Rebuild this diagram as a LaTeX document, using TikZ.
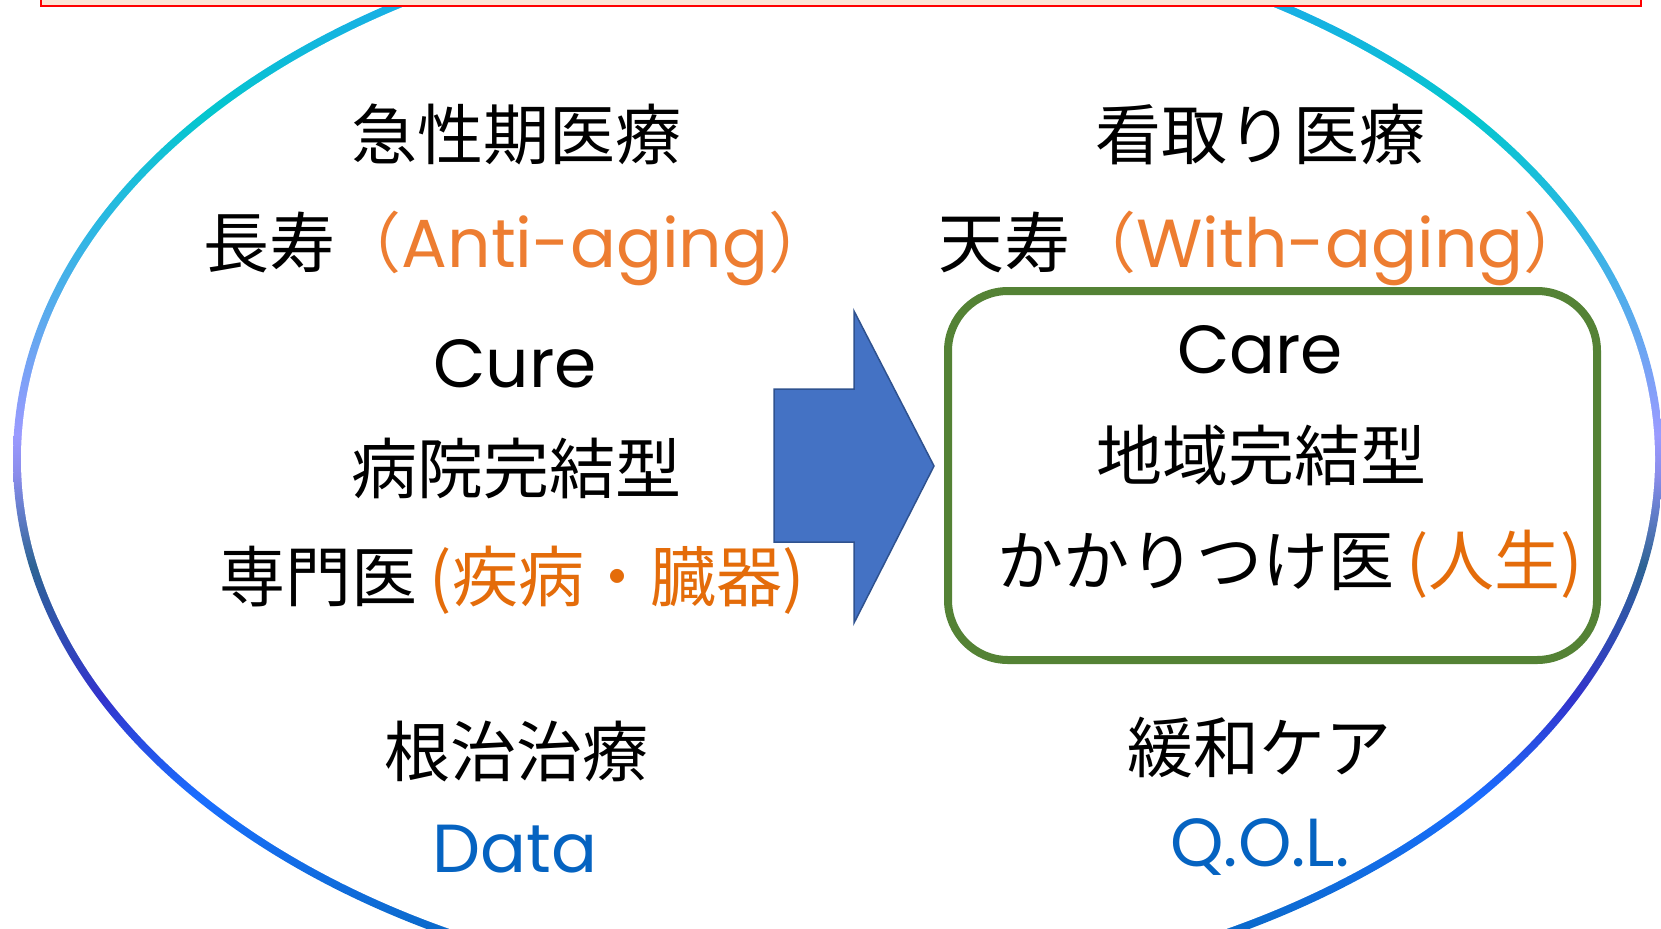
\documentclass[tikz,border=0pt]{standalone}
\usepackage{fontspec}
\setmainfont{Noto Sans CJK JP}
\newfontfamily\latfont{Poppins}
\definecolor{g0}{HTML}{1AAEE6}
\definecolor{g1}{HTML}{04C6CE}
\definecolor{g2}{HTML}{2AB8E2}
\definecolor{g3}{HTML}{64A8F0}
\definecolor{g4}{HTML}{80A0F8}
\definecolor{g5}{HTML}{9B9BFF}
\definecolor{g6}{HTML}{8A8CEA}
\definecolor{g7}{HTML}{6A80D0}
\definecolor{g8}{HTML}{2E6495}
\definecolor{g9}{HTML}{3050B0}
\definecolor{g10}{HTML}{3333CC}
\definecolor{g11}{HTML}{1A6EFF}
\definecolor{g12}{HTML}{0A6AC8}
\definecolor{peach}{HTML}{FBE5D6}
\definecolor{boxgreen}{HTML}{548235}
\definecolor{arrowblue}{HTML}{4472C4}
\definecolor{arrowedge}{HTML}{2F528F}
\definecolor{orangeA}{HTML}{ED7D31}
\definecolor{orangeB}{HTML}{E46C0A}
\definecolor{dblue}{HTML}{0563C1}
\pgfdeclareverticalshading{ringgrad}{100bp}{color(0bp)=(g12); color(28.27bp)=(g12); color(34.55bp)=(g11); color(39.09bp)=(g10); color(42.27bp)=(g9); color(45bp)=(g8); color(47.73bp)=(g7); color(49.09bp)=(g6); color(50.91bp)=(g5); color(53.18bp)=(g4); color(55.45bp)=(g3); color(60.45bp)=(g2); color(65.45bp)=(g1); color(70.45bp)=(g0); color(100bp)=(g0)}
\newcommand\latw[1]{{\latfont\fontsize{34}{40}\selectfont #1}}
\tikzset{
  jp/.style={anchor=base, inner sep=0pt, font=\fontsize{33}{39}\selectfont},
  carebox/.style={draw=boxgreen, line width=4pt, rounded corners=30pt, inner sep=0pt},
  bigarrow/.style={fill=arrowblue, draw=arrowedge, line width=0.75pt},
  banner/.style={fill=peach, draw=red, line width=1pt}
}
\begin{document}
\begin{tikzpicture}[x=0.5pt,y=-0.5pt]
\useasboundingbox (0,0) rectangle (1661,928);
% gradient ellipse ring
\begin{scope}
  \clip (838,459) ellipse [x radius=825, y radius=542];
  \shade[shading=ringgrad] (0,-100) rectangle (1661,1010);
\end{scope}
\fill[white] (838,459) ellipse [x radius=817, y radius=534];
% top banner
\draw[banner] (41,-20) rectangle (1641,6);
% green box
\node[carebox, minimum width=324.5pt, minimum height=184.5pt] (box) at (1272.5,475.5) {};
% arrow
\draw[bigarrow] (774,389) -- (854,389) -- (854,311) -- (934,466) -- (854,623) -- (854,542) -- (774,542) -- cycle;
% left column
\node[jp] (l1) at (516,159) {急性期医療};
\node[jp] (l2) at (519,267) {長寿\textcolor{orangeA}{（\latw{Anti-aging}）}};
\node[jp] (l3) at (515,387) {\latw{Cure}};
\node[jp] (l4) at (516,493) {病院完結型};
\node[jp] (l5) at (512,601) {専門医\hspace{6pt}\textcolor{orangeB}{(疾病・臓器)}};
\node[jp] (l6) at (516,776) {根治治療};
\node[jp, text=dblue] (l7) at (515,872) {\latw{Data}};
% right column
\node[jp] (r1) at (1260,159) {看取り医療};
\node[jp] (r2) at (1264,267) {天寿\textcolor{orangeA}{（\latw{With-aging}）}};
\node[jp] (r3) at (1260,373) {\latw{Care}};
\node[jp] (r4) at (1261,480) {地域完結型};
\node[jp] (r5) at (1290,585) {かかりつけ医\hspace{6pt}\textcolor{orangeB}{(人生)}};
\node[jp] (r6) at (1259,772) {緩和ケア};
\node[jp, text=dblue] (r7) at (1260,866) {\latw{Q.O.L.}};
\end{tikzpicture}
\end{document}
